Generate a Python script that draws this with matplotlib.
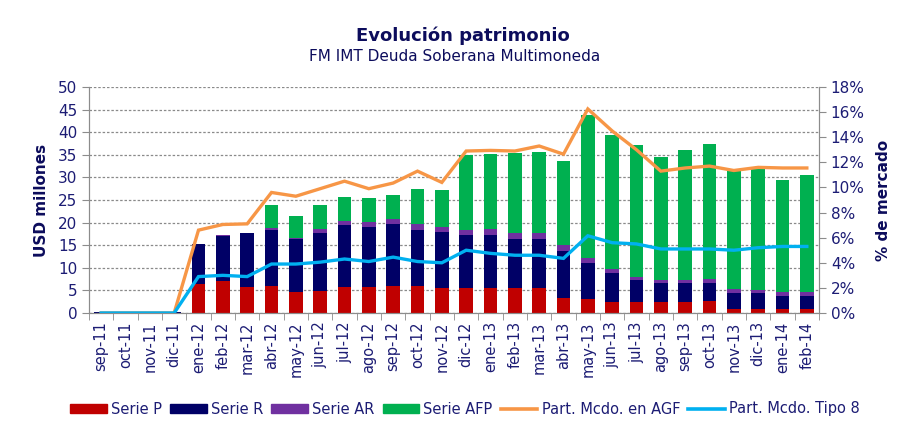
import numpy as np
import matplotlib
matplotlib.use("Agg")
import matplotlib.pyplot as plt
from matplotlib.patches import Patch
from matplotlib.lines import Line2D
from matplotlib.ticker import FuncFormatter, FixedLocator

# data
months = ["sep-11", "oct-11", "nov-11", "dic-11", "ene-12", "feb-12", "mar-12", "abr-12",
          "may-12", "jun-12", "jul-12", "ago-12", "sep-12", "oct-12", "nov-12", "dic-12",
          "ene-13", "feb-13", "mar-13", "abr-13", "may-13", "jun-13", "jul-13", "ago-13",
          "sep-13", "oct-13", "nov-13", "dic-13", "ene-14", "feb-14"]

serie_p = [0, 0, 0, 0, 6.5, 7.1, 5.8, 6.05, 4.65, 4.9, 5.8, 5.8, 6.05, 6.05, 5.45, 5.6,
           5.6, 5.6, 5.6, 3.4, 3.2, 2.4, 2.4, 2.4, 2.4, 2.65, 0.8, 0.8, 0.8, 0.8]
serie_r = [0.3, 0, 0, 0.3, 8.8, 10.0, 11.85, 12.35, 11.75, 12.9, 13.6, 13.2, 13.55, 12.35,
           12.55, 11.6, 11.75, 10.8, 10.8, 10.3, 7.95, 6.5, 4.9, 4.3, 4.3, 4.05, 3.7, 3.7,
           3.05, 3.05]
serie_ar = [0, 0, 0, 0, 0, 0.1, 0.05, 0.4, 0.2, 0.8, 1.0, 1.2, 1.2, 1.2, 1.1, 1.2,
            1.25, 1.2, 1.2, 1.3, 0.95, 0.8, 0.75, 0.6, 0.6, 0.8, 0.75, 0.6, 0.8, 0.8]
serie_afp = [0, 0, 0, 0, 0, 0, 0, 5.2, 4.8, 5.2, 5.2, 5.2, 5.4, 7.9, 8.1, 16.5,
             16.5, 17.9, 18.1, 18.7, 31.7, 29.7, 29.05, 27.2, 28.8, 29.9, 26.25, 26.9,
             24.85, 25.95]

part_agf = [0, 0, 0, 0, 6.6, 7.05, 7.1, 9.6, 9.3, 9.9, 10.5, 9.9, 10.35, 11.3, 10.4, 12.9,
            12.95, 12.9, 13.3, 12.65, 16.25, 14.5, 13.0, 11.3, 11.55, 11.7, 11.35, 11.6,
            11.55, 11.55]
part_tipo8 = [0, 0, 0, 0, 2.9, 3.0, 2.9, 3.9, 3.9, 4.05, 4.3, 4.1, 4.45, 4.1, 4.0, 5.0,
              4.75, 4.6, 4.6, 4.35, 6.15, 5.6, 5.5, 5.1, 5.1, 5.1, 5.0, 5.2, 5.3, 5.3]

txt = "#1c1c74"
dark = "#0c0c5c"
axis_gray = "#8c8c8c"

c_p, c_r, c_ar, c_afp = "#C00000", "#000066", "#7030A0", "#00B050"
c_agf, c_t8 = "#F79646", "#00B0F0"

fig = plt.figure(figsize=(9.07, 4.38), dpi=100)
ax = fig.add_axes([89 / 907, (438 - 313) / 438, (819 - 89) / 907, (313 - 87) / 438])

x = np.arange(len(months))
w = 0.56
b1 = np.array(serie_p)
b2 = b1 + np.array(serie_r)
b3 = b2 + np.array(serie_ar)
ax.bar(x, serie_p, w, color=c_p, zorder=2)
ax.bar(x, serie_r, w, bottom=b1, color=c_r, zorder=2)
ax.bar(x, serie_ar, w, bottom=b2, color=c_ar, zorder=2)
ax.bar(x, serie_afp, w, bottom=b3, color=c_afp, zorder=2)

ax.set_xlim(-0.5, len(months) - 0.5)
ax.set_ylim(0, 50)
ax.set_yticks(np.arange(0, 51, 5))
ax.yaxis.grid(True, linestyle=(0, (2, 1.5)), color="#8a8a8a", linewidth=0.9)
ax.set_axisbelow(True)

ax.set_xticks(x)
ax.set_xticklabels(months, rotation=90, color=txt, fontsize=10.5)
ax.xaxis.set_minor_locator(FixedLocator(np.arange(-0.5, len(months), 1)))
ax.tick_params(axis="x", which="major", length=0, pad=6)
ax.tick_params(axis="x", which="minor", length=5, color=axis_gray)
ax.tick_params(axis="y", labelcolor=txt, labelsize=11, color=axis_gray, length=5)
ax.set_ylabel("USD millones", color=dark, fontsize=11, fontweight="bold", labelpad=6)

ax.spines["top"].set_visible(False)
for s in ["left", "bottom", "right"]:
    ax.spines[s].set_color(axis_gray)

ax2 = ax.twinx()
ax2.plot(x, part_agf, color=c_agf, linewidth=2.4, solid_joinstyle="miter")
ax2.plot(x, part_tipo8, color=c_t8, linewidth=2.4, solid_joinstyle="miter")
ax2.set_ylim(0, 18)
ax2.set_yticks(np.arange(0, 19, 2))
ax2.yaxis.set_major_formatter(FuncFormatter(lambda v, p: f"{v:.0f}%"))
ax2.tick_params(axis="y", labelcolor=txt, labelsize=11, color=axis_gray, length=5)
ax2.set_ylabel("% de mercado", color=dark, fontsize=11, fontweight="bold", labelpad=8)
ax2.spines["top"].set_visible(False)
for s in ["left", "bottom", "right"]:
    ax2.spines[s].set_color(axis_gray)

fig.text(463 / 907, 1 - 40.7 / 438, "Evolución patrimonio", ha="center",
         va="baseline", fontsize=13, fontweight="bold", color=dark)
fig.text(455 / 907, 1 - 60.7 / 438, "FM IMT Deuda Soberana Multimoneda", ha="center",
         va="baseline", fontsize=11, color=dark)

handles = [Patch(color=c_p), Patch(color=c_r), Patch(color=c_ar), Patch(color=c_afp),
           Line2D([], [], color=c_agf, linewidth=2.6), Line2D([], [], color=c_t8, linewidth=2.6)]
labels = ["Serie P", "Serie R", "Serie AR", "Serie AFP", "Part. Mcdo. en AGF", "Part. Mcdo. Tipo 8"]
leg = fig.legend(handles, labels, loc="center", bbox_to_anchor=(465 / 907, 1 - 409 / 438),
                 ncol=6, frameon=False, fontsize=10.5, handlelength=2.5, handleheight=0.55,
                 handletextpad=0.3, columnspacing=0.55, labelcolor=txt, borderpad=0)

fig.savefig("out.png", dpi=100)
